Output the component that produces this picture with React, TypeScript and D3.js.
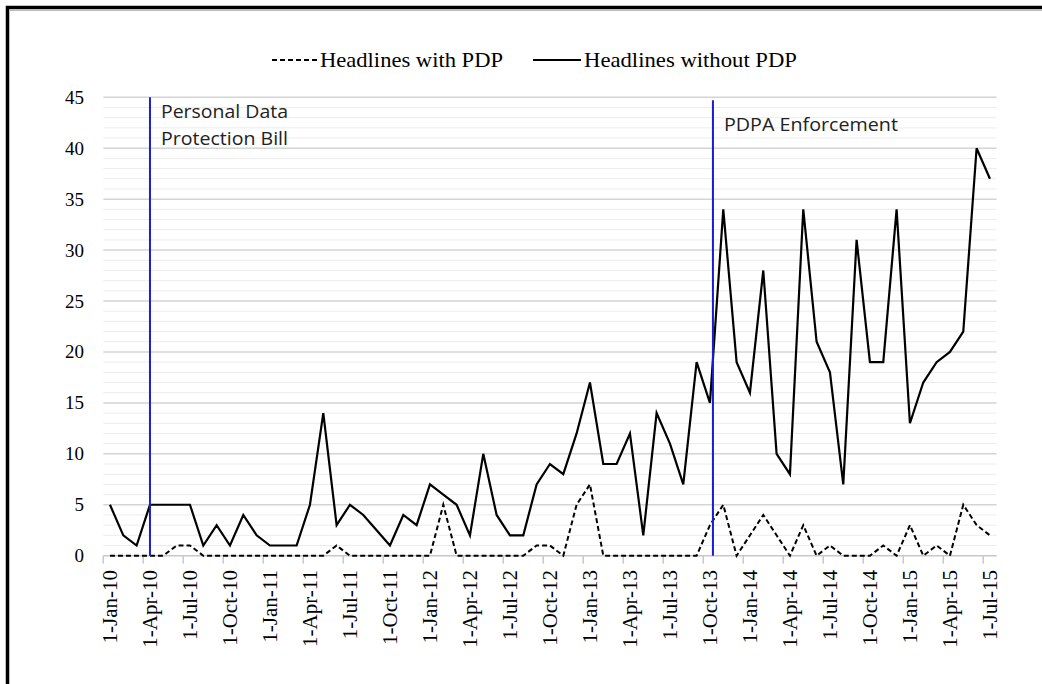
import React from 'react';
import * as d3 from 'd3';

// ---- data ----
const months: Date[] = d3.timeMonth.range(new Date(2010, 0, 1), new Date(2015, 7, 1)); // Jan-10 .. Jul-15 (67)
const tickLabels = [
  '1-Jan-10', '1-Apr-10', '1-Jul-10', '1-Oct-10',
  '1-Jan-11', '1-Apr-11', '1-Jul-11', '1-Oct-11',
  '1-Jan-12', '1-Apr-12', '1-Jul-12', '1-Oct-12',
  '1-Jan-13', '1-Apr-13', '1-Jul-13', '1-Oct-13',
  '1-Jan-14', '1-Apr-14', '1-Jul-14', '1-Oct-14',
  '1-Jan-15', '1-Apr-15', '1-Jul-15',
];
const withPDP = [
  0, 0, 0, 0, 0, 1, 1, 0, 0, 0,
  0, 0, 0, 0, 0, 0, 0, 1, 0, 0,
  0, 0, 0, 0, 0, 5, 0, 0, 0, 0,
  0, 0, 1, 1, 0, 5, 7, 0, 0, 0,
  0, 0, 0, 0, 0, 3, 5, 0, 2, 4,
  2, 0, 3, 0, 1, 0, 0, 0, 1, 0,
  3, 0, 1, 0, 5, 3, 2,
];
const withoutPDP = [
  5, 2, 1, 5, 5, 5, 5, 1, 3, 1,
  4, 2, 1, 1, 1, 5, 14, 3, 5, 4,
  2.5, 1, 4, 3, 7, 6, 5, 2, 10, 4,
  2, 2, 7, 9, 8, 12, 17, 9, 9, 12,
  2, 14, 11, 7, 19, 15, 34, 19, 16, 28,
  10, 8, 34, 21, 18, 7, 31, 19, 19, 34,
  13, 17, 19, 20, 22, 40, 37,
];
const yTicks = [0, 5, 10, 15, 20, 25, 30, 35, 40, 45];
const events = [
  { index: 3, lines: ['Personal Data', 'Protection Bill'] },
  { index: 45, lines: ['PDPA Enforcement'] },
];
const legendItems = ['Headlines with PDP', 'Headlines without PDP'];

// ---- layout ----
const W = 1042, H = 684;
const plotLeft = 103.3, plotRight = 996.6, plotTop = 97.3, plotBottom = 555.7;

export default function App() {
  const idx = months.map((_, i) => i);
  const x = d3.scaleBand<number>().domain(idx).range([plotLeft, plotRight]).padding(0);
  const bw = x.bandwidth();
  const cx = (i: number) => (x(i) as number) + bw / 2;
  const y = d3.scaleLinear().domain([0, 45]).range([plotBottom, plotTop]);

  const line = d3.line<number>().x((_, i) => cx(i)).y((d) => y(d));
  const minor = d3.range(1, 45).filter((v) => v % 5 !== 0);
  const tickIdx = idx.filter((i) => i % 3 === 0);

  const serif = '"Liberation Serif", "Times New Roman", serif';
  const sans = '"Open Sans", "Noto Sans", sans-serif';

  return (
    <svg width={W} height={H} style={{ position: 'absolute', left: 0, top: 0, background: '#fff' }}>
      <rect x={0} y={0} width={W} height={H} fill="#fff" />
      {/* frame */}
      <path d={`M7.5 ${H + 2} V7.5 H${W + 2}`} fill="none" stroke="#000" strokeWidth={3.5} />
      <line x1={9} x2={W} y1={10.5} y2={10.5} stroke="#bbb" strokeWidth={1} />

      {/* minor grid */}
      {minor.map((v) => (
        <line key={'m' + v} x1={plotLeft} x2={plotRight} y1={y(v)} y2={y(v)} stroke="#ececec" strokeWidth={1} />
      ))}
      {/* major grid */}
      {yTicks.filter((v) => v > 0).map((v) => (
        <line key={'g' + v} x1={plotLeft} x2={plotRight} y1={y(v)} y2={y(v)} stroke="#d4d4d4" strokeWidth={1.5} />
      ))}
      {/* baseline & ticks */}
      <line x1={plotLeft} x2={plotRight} y1={y(0)} y2={y(0)} stroke="#c8c8c8" strokeWidth={1.5} />
      {tickIdx.map((i) => (
        <line key={'t' + i} x1={x(i) as number} x2={x(i) as number} y1={y(0)} y2={y(0) + 8} stroke="#c8c8c8" strokeWidth={1.5} />
      ))}

      {/* y labels */}
      {yTicks.map((v) => (
        <text key={'y' + v} x={84} y={y(v)} textAnchor="end" dominantBaseline="central" fontFamily={serif} fontSize={19} fill="#000">
          {v}
        </text>
      ))}

      {/* x labels */}
      {tickIdx.map((i, k) => (
        <text
          key={'x' + i}
          transform={`translate(${cx(i)},570) rotate(-90)`}
          textAnchor="end"
          dominantBaseline="central"
          fontFamily={serif}
          fontSize={21}
          fill="#000"
        >
          {tickLabels[k]}
        </text>
      ))}

      {/* series */}
      <path d={line(withPDP) || ''} fill="none" stroke="#000" strokeWidth={2} strokeDasharray="5,3" />
      <path d={line(withoutPDP) || ''} fill="none" stroke="#000" strokeWidth={2.2} strokeLinejoin="miter" />

      {/* event lines */}
      {events.map((e, k) => {
        const ex = cx(e.index) + (k === 1 ? 3 : 0);
        return (
          <g key={'e' + k}>
            <line x1={ex} x2={ex} y1={k === 0 ? plotTop : plotTop + 3} y2={plotBottom} stroke="#1c1cd0" strokeWidth={2} />
            {e.lines.map((t, j) => (
              <text
                key={j}
                x={ex + 11}
                y={(k === 0 ? 118 : 131) + j * 27}
                fontFamily={sans}
                fontSize={19}
                fill="#222"
                textLength={k === 0 ? 127 : 174}
                lengthAdjust="spacingAndGlyphs"
              >
                {t}
              </text>
            ))}
          </g>
        );
      })}

      {/* legend */}
      <g>
        <line x1={272} x2={318} y1={60} y2={60} stroke="#000" strokeWidth={2} strokeDasharray="5,3" />
        <text x={320} y={60} dominantBaseline="central" fontFamily={serif} fontSize={21} textLength={183} lengthAdjust="spacingAndGlyphs">
          {legendItems[0]}
        </text>
        <line x1={533} x2={581} y1={60} y2={60} stroke="#000" strokeWidth={2.2} />
        <text x={584} y={60} dominantBaseline="central" fontFamily={serif} fontSize={21} textLength={213} lengthAdjust="spacingAndGlyphs">
          {legendItems[1]}
        </text>
      </g>
    </svg>
  );
}
